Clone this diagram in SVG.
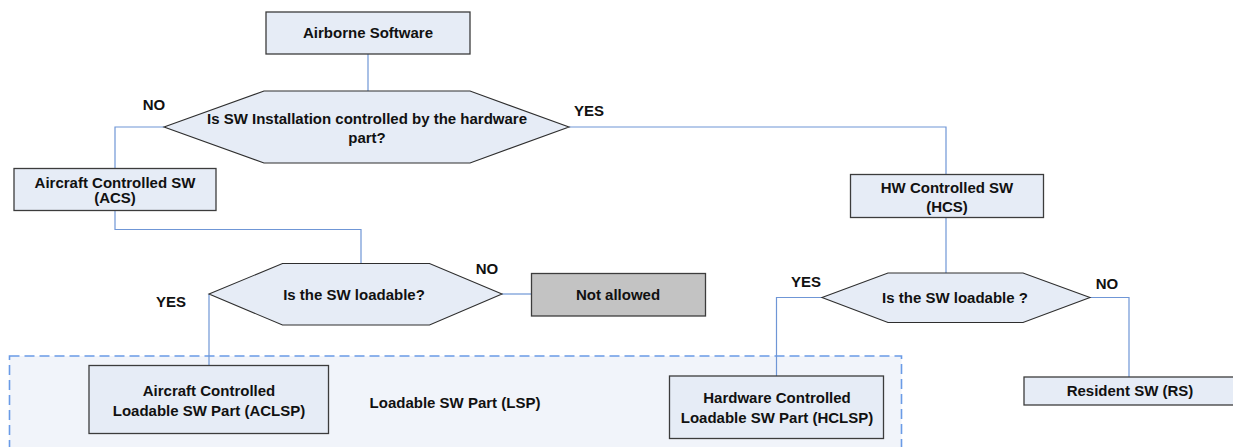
<svg xmlns="http://www.w3.org/2000/svg" width="1233" height="447" viewBox="0 0 1233 447">
  <style>
    .box { fill: #e6ecf6; stroke: #3c3c3c; stroke-width: 1.3; }
    .grey { fill: #c3c3c3; stroke: #3c3c3c; stroke-width: 1.3; }
    .hex { fill: #e6ecf6; stroke: #2e2e2e; stroke-width: 1.1; }
    .wire { fill: none; stroke: #6f96d6; stroke-width: 1.2; }
    .group { fill: #f1f4fa; stroke: #6a9be6; stroke-width: 1.6; stroke-dasharray: 10 5; }
    text { font-family: "Liberation Sans", Arial, sans-serif; font-weight: bold; font-size: 15px; fill: #111; text-anchor: middle; dominant-baseline: central; }
  </style>

  <!-- loadable software part grouping -->
  <g id="lsp-group">
    <rect class="group" x="9.5" y="356" width="892" height="100"/>
    <text x="455" y="402">Loadable SW Part (LSP)</text>
  </g>

  <!-- connectors -->
  <g id="connectors">
    <polyline class="wire" points="368,54 368,91"/>
    <polyline class="wire" points="164,127 115,127 115,168"/>
    <polyline class="wire" points="569,127 946,127 946,174"/>
    <polyline class="wire" points="115,211 115,229.5 361,229.5 361,263.5"/>
    <polyline class="wire" points="502,294 531,294"/>
    <polyline class="wire" points="209,294 209,365"/>
    <polyline class="wire" points="946,218 946,273"/>
    <polyline class="wire" points="822,297.5 776.5,297.5 776.5,376"/>
    <polyline class="wire" points="1090,297.5 1129,297.5 1129,377"/>
  </g>

  <!-- branch labels -->
  <g id="labels">
    <text x="154" y="104">NO</text>
    <text x="589" y="110">YES</text>
    <text x="487" y="268">NO</text>
    <text x="171" y="301">YES</text>
    <text x="806" y="281">YES</text>
    <text x="1107" y="283">NO</text>
  </g>

  <g id="airborne-software">
    <rect class="box" x="266" y="12" width="204" height="42"/>
    <text x="368" y="32">Airborne Software</text>
  </g>

  <g id="hw-install-decision">
    <polygon class="hex" points="164,127 264,91 470,91 569,127 470,163 264,163"/>
    <text x="367" y="118">Is SW Installation controlled by the hardware</text>
    <text x="367" y="137">part?</text>
  </g>

  <g id="acs">
    <rect class="box" x="14" y="168.5" width="202" height="42"/>
    <text x="115" y="182">Aircraft Controlled SW</text>
    <text x="115" y="197">(ACS)</text>
  </g>

  <g id="hcs">
    <rect class="box" x="850.5" y="174.5" width="193" height="43"/>
    <text x="947" y="187.5">HW Controlled SW</text>
    <text x="947" y="206">(HCS)</text>
  </g>

  <g id="acs-loadable-decision">
    <polygon class="hex" points="209,294 282.5,263.5 429.5,263.5 502,294 429.5,325 282.5,325"/>
    <text x="354" y="294">Is the SW loadable?</text>
  </g>

  <g id="not-allowed">
    <rect class="grey" x="531.5" y="273.5" width="174" height="42.5"/>
    <text x="618" y="294">Not allowed</text>
  </g>

  <g id="hcs-loadable-decision">
    <polygon class="hex" points="822,297.5 888,273 1023,273 1090,297.5 1023,322.5 888,322.5"/>
    <text x="955" y="297.5">Is the SW loadable ?</text>
  </g>

  <g id="aclsp">
    <rect class="box" x="89" y="365.5" width="239.5" height="68"/>
    <text x="209" y="390">Aircraft Controlled</text>
    <text x="209" y="410">Loadable SW Part (ACLSP)</text>
  </g>

  <g id="hclsp">
    <rect class="box" x="669.5" y="376" width="214" height="62.5"/>
    <text x="777" y="397">Hardware Controlled</text>
    <text x="777" y="417">Loadable SW Part (HCLSP)</text>
  </g>

  <g id="resident-sw">
    <rect class="box" x="1024" y="377" width="215" height="28"/>
    <text x="1130" y="390">Resident SW (RS)</text>
  </g>
</svg>
